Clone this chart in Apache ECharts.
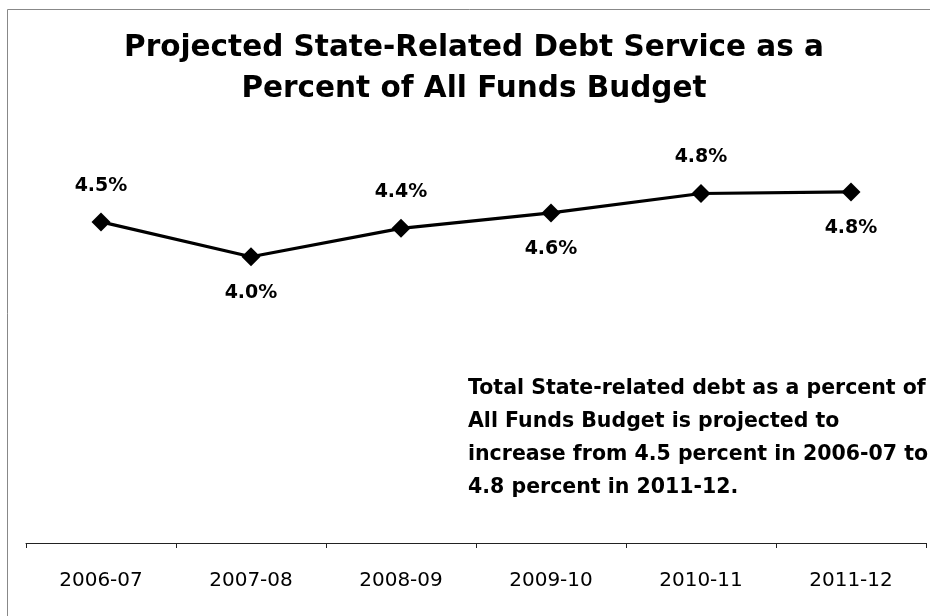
<!DOCTYPE html>
<html><head><meta charset="utf-8">
<script src="https://cdn.jsdelivr.net/npm/echarts@6/dist/echarts.min.js"></script>
<style>html,body{margin:0;padding:0;background:#fff}#c{width:930px;height:616px}</style>
</head><body><div id="c"></div>
<script>
var categories = ['2006-07','2007-08','2008-09','2009-10','2010-11','2011-12'];
var values = [4.46, 4.03, 4.38, 4.57, 4.81, 4.83];
var labelPos = ['top','bottom','top','bottom','top','bottom'];
var titleLines = ['Projected State-Related Debt Service as a','Percent of All Funds Budget'];
var noteLines = ['Total State-related debt as a percent of','All Funds Budget is projected to','increase from 4.5 percent in 2006-07 to','4.8 percent in 2011-12.'];

var chart = echarts.init(document.getElementById('c'));
var font = '"DejaVu Sans", Verdana, sans-serif';
chart.setOption({
  animation:false,
  graphic:[
    {type:'rect', shape:{x:7.5,y:9.5,width:1000,height:700}, style:{fill:'none', stroke:'#888', lineWidth:1}},
    {type:'text', x:474, y:28, style:{text:titleLines.join('\n'), align:'center', verticalAlign:'top',
      font:'bold 29.5px '+font, lineHeight:41, fill:'#000'}},
    {type:'text', left:468, top:372, style:{text:noteLines.join('\n'), font:'bold 20.5px '+font, lineHeight:33, fill:'#000'}}
  ],
  grid:{left:26, right:4, top:97, bottom:73},
  xAxis:{type:'category', data:categories, boundaryGap:true,
    axisLine:{lineStyle:{color:'#222', width:1}},
    axisTick:{show:true, inside:false, length:5, lineStyle:{color:'#222'}},
    axisLabel:{fontFamily:font, fontSize:20, color:'#000', margin:28}},
  yAxis:{type:'value', min:0.5, max:6, show:false, splitLine:{show:false}},
  series:[{type:'line', data:values.map(function(v,i){return {value:v, label:{position:labelPos[i]}};}),
    symbol:'diamond', symbolSize:19, showAllSymbol:true,
    lineStyle:{color:'#000', width:3.2}, itemStyle:{color:'#000'},
    label:{show:true, distance:17, fontFamily:font, fontWeight:'bold', fontSize:19, color:'#000',
      formatter:function(p){return p.value.toFixed(1)+'%';}}}]
});
</script></body></html>
